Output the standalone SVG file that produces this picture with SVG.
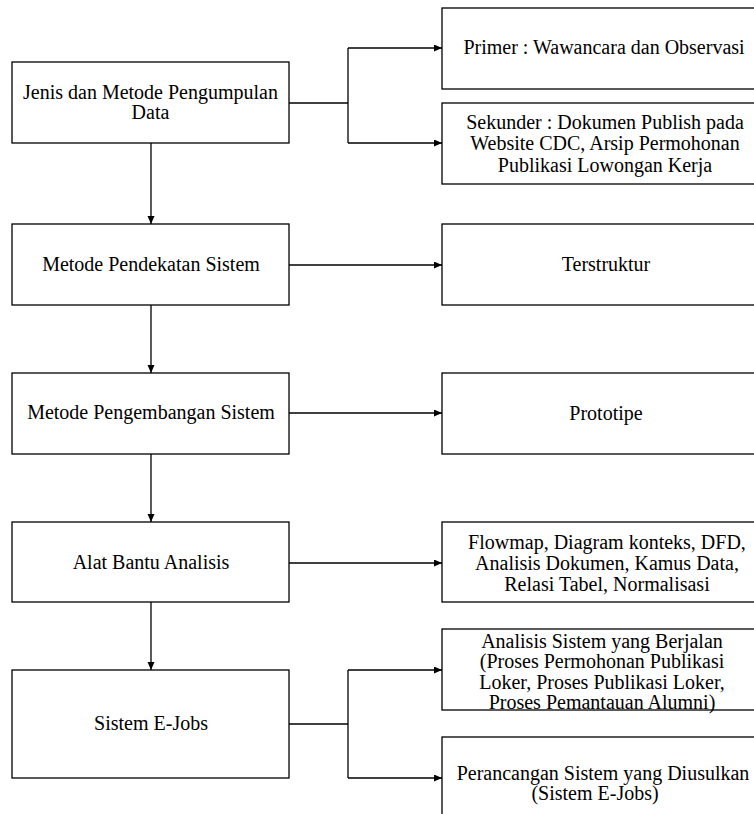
<svg xmlns="http://www.w3.org/2000/svg" width="754" height="814" viewBox="0 0 754 814">
<style>
  .box { fill: #fff; stroke: #000; stroke-width: 1.3; }
  .t { font-family: "Liberation Serif", "Times New Roman", serif; font-size: 20px; fill: #000; text-anchor: middle; }
  .ln { fill: none; stroke: #000; stroke-width: 1.3; }
</style>
<defs>
  <marker id="ah" markerUnits="userSpaceOnUse" markerWidth="8" markerHeight="8" refX="8" refY="3.5" orient="auto">
    <path d="M0,0 L8,3.5 L0,7 z" fill="#000"/>
  </marker>
</defs>
<rect width="754" height="814" fill="#fff"/>

<g id="connectors">
  <path class="ln" d="M151,143 V224" marker-end="url(#ah)"/>
  <path class="ln" d="M151,305 V373" marker-end="url(#ah)"/>
  <path class="ln" d="M151,454 V522" marker-end="url(#ah)"/>
  <path class="ln" d="M151,602 V670" marker-end="url(#ah)"/>
  <path class="ln" d="M289,103 H348"/>
  <path class="ln" d="M348,48 V143"/>
  <path class="ln" d="M348,48 H442" marker-end="url(#ah)"/>
  <path class="ln" d="M348,143 H442" marker-end="url(#ah)"/>
  <path class="ln" d="M289,265 H442" marker-end="url(#ah)"/>
  <path class="ln" d="M289,413 H442" marker-end="url(#ah)"/>
  <path class="ln" d="M289,563 H442" marker-end="url(#ah)"/>
  <path class="ln" d="M289,724 H348"/>
  <path class="ln" d="M348,670 V778"/>
  <path class="ln" d="M348,670 H442" marker-end="url(#ah)"/>
  <path class="ln" d="M348,778 H442" marker-end="url(#ah)"/>
</g>

<g id="jenis">
  <rect class="box" x="12" y="62" width="277" height="81"/>
  <text class="t" x="150.5" y="99">Jenis dan Metode Pengumpulan</text>
  <text class="t" x="150.5" y="119">Data</text>
</g>
<g id="primer">
  <rect class="box" x="442" y="8" width="326" height="81"/>
  <text class="t" x="604" y="54">Primer : Wawancara dan Observasi</text>
</g>
<g id="sekunder">
  <rect class="box" x="442" y="103" width="326" height="81"/>
  <text class="t" x="605" y="129">Sekunder : Dokumen Publish pada</text>
  <text class="t" x="605" y="150">Website CDC, Arsip Permohonan</text>
  <text class="t" x="605" y="172">Publikasi Lowongan Kerja</text>
</g>
<g id="pendekatan">
  <rect class="box" x="12" y="224" width="277" height="81"/>
  <text class="t" x="151" y="271">Metode Pendekatan Sistem</text>
</g>
<g id="terstruktur">
  <rect class="box" x="442" y="224" width="326" height="81"/>
  <text class="t" x="606" y="271">Terstruktur</text>
</g>
<g id="pengembangan">
  <rect class="box" x="12" y="373" width="277" height="81"/>
  <text class="t" x="151" y="419">Metode Pengembangan Sistem</text>
</g>
<g id="prototipe">
  <rect class="box" x="442" y="373" width="326" height="81"/>
  <text class="t" x="606" y="420">Prototipe</text>
</g>
<g id="alat">
  <rect class="box" x="12" y="522" width="277" height="80"/>
  <text class="t" x="151" y="569">Alat Bantu Analisis</text>
</g>
<g id="flowmap">
  <rect class="box" x="442" y="522" width="326" height="80"/>
  <text class="t" x="607" y="549">Flowmap, Diagram konteks, DFD,</text>
  <text class="t" x="607" y="570">Analisis Dokumen, Kamus Data,</text>
  <text class="t" x="607" y="591">Relasi Tabel, Normalisasi</text>
</g>
<g id="ejobs">
  <rect class="box" x="12" y="670" width="277" height="108"/>
  <text class="t" x="151" y="730">Sistem E-Jobs</text>
</g>
<g id="analisis">
  <rect class="box" x="442" y="629" width="326" height="81"/>
  <text class="t" x="602" y="648">Analisis Sistem yang Berjalan</text>
  <text class="t" x="602" y="668">(Proses Permohonan Publikasi</text>
  <text class="t" x="602" y="689">Loker, Proses Publikasi Loker,</text>
  <text class="t" x="602" y="709">Proses Pemantauan Alumni)</text>
</g>
<g id="perancangan">
  <rect class="box" x="442" y="737" width="326" height="90"/>
  <text class="t" x="603" y="780">Perancangan Sistem yang Diusulkan</text>
  <text class="t" x="595" y="800">(Sistem E-Jobs)</text>
</g>
</svg>
